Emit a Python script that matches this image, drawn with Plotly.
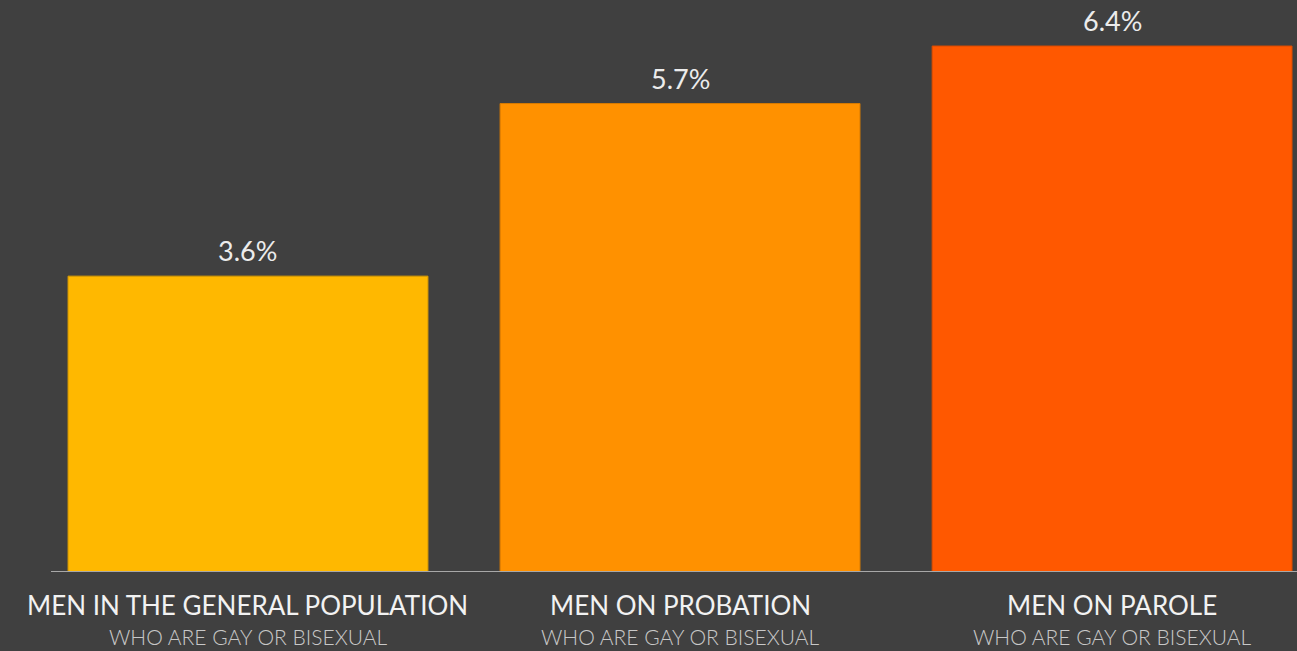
import plotly.graph_objects as go

categories = ["MEN IN THE GENERAL POPULATION", "MEN ON PROBATION", "MEN ON PAROLE"]
subtitles = ["WHO ARE GAY OR BISEXUAL", "WHO ARE GAY OR BISEXUAL", "WHO ARE GAY OR BISEXUAL"]
values = [3.6, 5.7, 6.4]
value_labels = ["3.6%", "5.7%", "6.4%"]
colors = ["#FFB800", "#FF9100", "#FF5800"]
edge_colors = ["#D99C00", "#D97B00", "#D94B00"]

W, H = 1297, 651
FONT = "Lato"

xs = list(range(len(categories)))

fig = go.Figure()
fig.add_trace(go.Bar(
    x=xs, y=values,
    marker=dict(color=colors, line=dict(color=edge_colors, width=1)),
    width=0.833,
    hoverinfo="skip",
))

ann = []
for i, (v, t) in enumerate(zip(values, value_labels)):
    ann.append(dict(x=i, y=v, xref="x", yref="y", text=t, showarrow=False,
                    yanchor="bottom", yshift=7,
                    font=dict(family=FONT, size=27, color="#ECECEC")))
for i, (c, s) in enumerate(zip(categories, subtitles)):
    ann.append(dict(x=i, y=-33 / 572, xref="x", yref="paper", text=c, showarrow=False,
                    yanchor="middle",
                    font=dict(family=FONT, size=26, color="#F2F2F2")))
    ann.append(dict(x=i, y=-65 / 572, xref="x", yref="paper", text=s, showarrow=False,
                    yanchor="middle",
                    font=dict(family=FONT, size=21, color="#C8C8C8", weight=300)))

fig.update_layout(
    width=W, height=H,
    margin=dict(l=0, r=0, t=0, b=79),
    paper_bgcolor="#404040",
    plot_bgcolor="#404040",
    showlegend=False,
    annotations=ann,
    xaxis=dict(range=[-0.574, 2.428], showticklabels=False, showgrid=False,
               zeroline=False, showline=False, fixedrange=True),
    yaxis=dict(range=[0, 6.96], showticklabels=False, showgrid=False,
               zeroline=False, showline=False, fixedrange=True),
    shapes=[dict(type="line", xref="paper", yref="y", x0=51 / 1297, x1=1, y0=0, y1=0,
                 line=dict(color="#A8A8A8", width=2), layer="above")],
)

fig.write_html(
    "out.html",
    config={"displayModeBar": False},
    post_script="document.body.style.margin='0';document.body.style.overflow='hidden';"
                "document.documentElement.style.background='#404040';",
)
